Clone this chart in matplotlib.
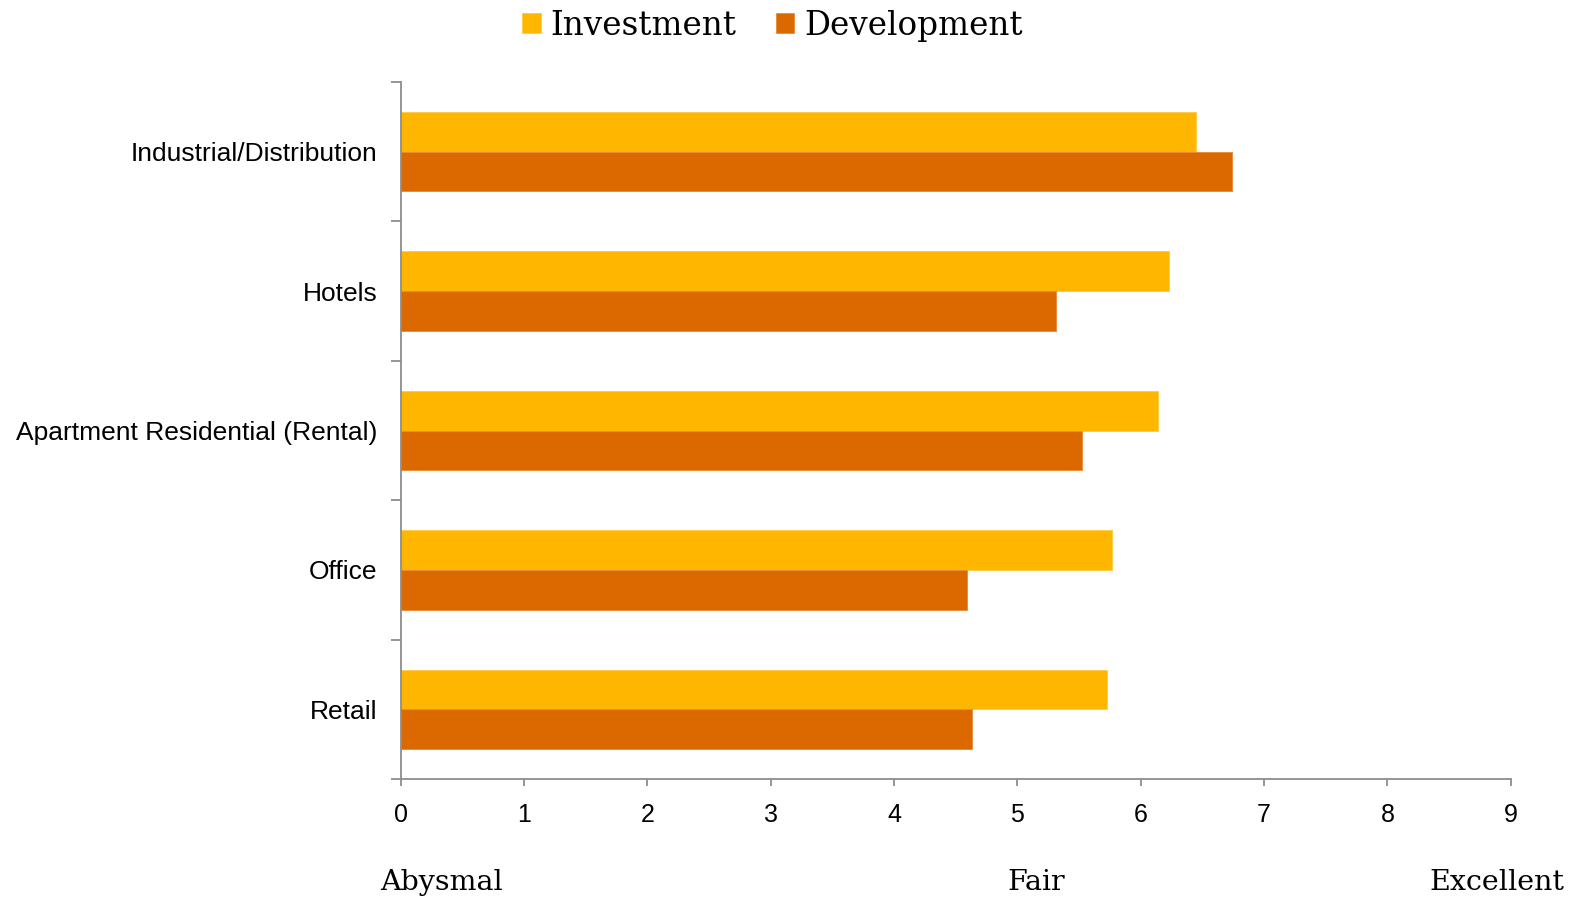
import matplotlib.pyplot as plt
import numpy as np

# sector scores
categories = ["Industrial/Distribution", "Hotels", "Apartment Residential (Rental)", "Office", "Retail"]
investment = [6.45, 6.23, 6.14, 5.77, 5.73]
development = [6.74, 5.31, 5.52, 4.59, 4.63]
x_ticks = list(range(0, 10))
scale_labels = ["Abysmal", "Fair", "Excellent"]

c_inv = "#FFB600"
c_dev = "#DC6900"
grey = "#8c8c8c"
serif = "DejaVu Serif"

fig = plt.figure(figsize=(15.76, 8.98), dpi=100)
ax = fig.add_axes([0.2543, 0.1325, 0.7043, 0.7762])

# top category first
y = np.arange(len(categories))[::-1]
h = 0.285
ax.barh(y + h / 2, investment, height=h, color=c_inv, edgecolor="#FFC940", linewidth=0.6, label="Investment")
ax.barh(y - h / 2, development, height=h, color=c_dev, edgecolor="#E8893A", linewidth=0.6, label="Development")

ax.set_xlim(0, 9)
ax.set_ylim(-0.5, len(categories) - 0.5)
ax.set_xticks(x_ticks)
ax.set_yticks(y)
ax.set_yticklabels(categories)
ax.set_yticks(np.arange(-0.5, len(categories), 1), minor=True)

for s in ["top", "right"]:
    ax.spines[s].set_visible(False)
for s in ["left", "bottom"]:
    ax.spines[s].set_color(grey)
    ax.spines[s].set_linewidth(1.3)

ax.tick_params(axis="y", which="major", length=0, pad=17, labelsize=19, labelfontfamily="Liberation Sans")
ax.tick_params(axis="y", which="minor", length=7, width=1.3, color=grey, direction="out")
ax.tick_params(axis="x", length=5, width=1.3, color=grey, direction="out", pad=12, labelsize=18,
               labelfontfamily="Liberation Sans")

leg = fig.legend(loc="upper center", bbox_to_anchor=(0.49, 1.022), ncol=2, frameon=False,
                 prop={"family": serif, "size": 23.5}, handlelength=0.58, handleheight=0.58,
                 handletextpad=0.3, columnspacing=1.2)

# rating scale under the axis
ty = 1 - 890 / 898
fig.text(380 / 1576, ty, scale_labels[0], ha="left", va="baseline", family=serif, fontsize=20.5)
fig.text(1036 / 1576, ty, scale_labels[1], ha="center", va="baseline", family=serif, fontsize=20.5)
fig.text(1564 / 1576, ty, scale_labels[2], ha="right", va="baseline", family=serif, fontsize=20.5)

fig.savefig("out.png", dpi=100)
